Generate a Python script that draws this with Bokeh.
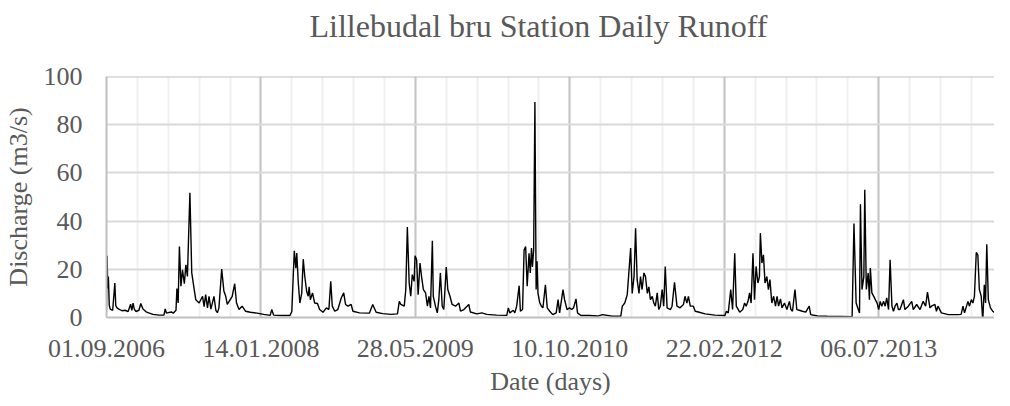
from bokeh.plotting import figure
from bokeh.models import FixedTicker, Range1d, Span, Title
from bokeh.embed import file_html
from bokeh.resources import INLINE

# ---- data -------------------------------------------------------------
title_text = "Lillebudal bru Station Daily Runoff"
start_date = "01.09.2006"          # day 0
tick_days = [0, 500, 1000, 1500, 2000, 2500]
tick_labels = ["01.09.2006", "14.01.2008", "28.05.2009",
               "10.10.2010", "22.02.2012", "06.07.2013"]
minor_days = list(range(0, 2901, 100))
y_ticks = [0, 20, 40, 60, 80, 100]

# days since 01.09.2006 and discharge (m3/s)
day = [0, 2, 4, 6, 9, 12, 20, 27, 30, 34, 40, 50, 60, 70, 78, 82, 86, 90, 95, 105,
       111, 118, 130, 150, 170, 186, 190, 194, 200, 210, 216, 225, 228, 232, 236, 241,
       246, 252, 257, 262, 270, 276, 284, 289, 300, 311, 316, 321, 327, 332, 338, 348,
       354, 359, 364, 373, 380, 386, 391, 407, 415, 421, 429, 439, 450, 466, 487, 509,
       530, 535, 541, 567, 594, 600, 605, 608, 613, 616, 621, 626, 632, 637, 642, 648,
       653, 656, 660, 667, 674, 683, 690, 701, 712, 720, 726, 731, 739, 749, 760, 768,
       774, 782, 792, 798, 819, 851, 862, 873, 894, 921, 942, 948, 953, 964, 969, 974,
       980, 985, 990, 996, 999, 1004, 1009, 1015, 1020, 1026, 1033, 1039, 1044, 1049,
       1055, 1058, 1065, 1071, 1076, 1081, 1087, 1092, 1100, 1105, 1112, 1119, 1130,
       1141, 1146, 1157, 1173, 1178, 1199, 1215, 1231, 1263, 1296, 1301, 1306, 1317,
       1322, 1328, 1336, 1340, 1347, 1352, 1357, 1362, 1368, 1372, 1376, 1379, 1383,
       1387, 1391, 1394, 1397, 1403, 1408, 1413, 1421, 1427, 1435, 1445, 1456, 1462,
       1467, 1478, 1483, 1491, 1499, 1506, 1512, 1520, 1525, 1536, 1563, 1590, 1606,
       1638, 1665, 1670, 1678, 1686, 1697, 1702, 1708, 1713, 1718, 1724, 1729, 1734,
       1740, 1745, 1751, 1756, 1761, 1767, 1772, 1777, 1783, 1788, 1793, 1799, 1804,
       1809, 1815, 1826, 1831, 1839, 1847, 1857, 1868, 1873, 1879, 1884, 1890, 1900,
       1906, 1916, 1938, 1970, 2002, 2007, 2013, 2021, 2027, 2034, 2039, 2050, 2060,
       2066, 2071, 2077, 2082, 2087, 2093, 2098, 2103, 2109, 2114, 2117, 2122, 2127,
       2132, 2138, 2143, 2148, 2154, 2160, 2166, 2171, 2176, 2182, 2187, 2195, 2203,
       2211, 2216, 2221, 2229, 2235, 2243, 2253, 2264, 2275, 2280, 2302, 2334, 2377,
       2414, 2420, 2427, 2434, 2438, 2441, 2446, 2452, 2455, 2460, 2466, 2470, 2473,
       2478, 2484, 2489, 2495, 2500, 2505, 2510, 2516, 2521, 2526, 2532, 2537, 2543,
       2548, 2553, 2559, 2564, 2569, 2580, 2585, 2596, 2607, 2612, 2623, 2634, 2644,
       2652, 2658, 2666, 2671, 2682, 2687, 2692, 2703, 2725, 2757, 2767, 2773, 2778,
       2789, 2794, 2800, 2805, 2810, 2816, 2821, 2826, 2832, 2837, 2842, 2846, 2850,
       2855, 2862, 2869, 2877, 2885, 2890, 2895]
runoff = [3.0, 25.6, 12, 17, 5, 3.5, 3, 14.3, 5, 4, 3.5, 2.8, 3, 2.5, 5.5, 3, 6, 3.5, 2.5, 3,
          5.8, 3.5, 2.2, 1.3, 1.0, 1.0, 3.6, 1.8, 2.0, 2.3, 1.8, 3, 12, 6, 29.5, 13,
          19.8, 14, 21.9, 17, 51.8, 18.5, 11.6, 7.4, 6, 8.8, 4.5, 9.5, 4, 8.8, 3.5, 8.8,
          3, 2, 4, 20.1, 11, 8.8, 5.4, 8.8, 14, 6, 3.3, 4.7, 2.6, 2.2, 1.8, 1.3,
          0.9, 3.3, 1.0, 0.8, 0.8, 2.5, 18.5, 27.7, 20.5, 26.7, 14.3, 6, 10, 24.2, 17, 10.9,
          8.8, 12.7, 7.4, 10.2, 6, 5.8, 3.3, 2.2, 4, 3.3, 15, 4.7, 2.6, 3.3, 8.1, 10.2,
          5.4, 4.7, 5.4, 2.6, 1.9, 1.8, 5.4, 2.2, 1.6, 1.3, 1.5, 6.7, 5.4, 4.7, 11.6, 37.5,
          14.3, 8.8, 17.8, 15, 25.6, 24, 9.5, 22.6, 17, 11.6, 10.2, 4.7, 8.8, 4,
          31.8, 8.8, 4.7, 1.9, 7.4, 18.5, 4.7, 3.3, 20.9, 11.6, 8.8, 5.4, 4.7,
          6, 2.6, 3.3, 5.4, 2.3, 1.5, 1.9, 1.3, 1.0, 0.9, 4, 1.9, 3,
          1.9, 4.7, 13.2, 2.6, 3.3, 28, 29.5, 13, 26.6, 18.5, 28.8, 21, 28,
          89.4, 11.6, 23.3, 10, 6, 4.7, 4, 13.6, 4, 2.6, 1.2, 1.9, 7.4,
          1.9, 11.6, 7.4, 3.3, 4, 3.3, 4, 7.7, 1.9, 0.8, 0.8, 0.6, 1.2,
          0.5, 0.5, 4.7, 6, 9.5, 28.8, 10, 17, 37, 15.7, 10, 17, 11.6,
          18.5, 17, 10, 12.7, 7.4, 8.8, 6, 4.7, 10.2, 3.3, 4.7, 11.6, 4.7,
          21.2, 4, 3.3, 4.7, 14.6, 4.7, 4, 5.4, 8.8, 6, 8.8, 4.7, 4.7,
          2.6, 2.3, 1.5, 1.0, 0.8, 2.6, 1.9, 11.6, 3.3, 26.7, 4.7, 2.2, 3.3,
          6, 4.7, 6.7, 10.2, 6, 26.7, 7.4, 21.2, 14.3, 17, 35, 22.6, 26,
          14.3, 17, 11.6, 15.7, 6, 8.8, 4.7, 8.8, 4.7, 7.7, 4, 6, 3.3,
          6.7, 3.3, 2.6, 11.6, 3.3, 3, 2.6, 2.2, 4.7, 1.2, 0.6, 0.5, 0.4,
          0.3, 39, 6, 3.3, 1.9, 47, 11.6, 17, 53, 11.6, 18.5, 7.4, 20.5,
          10.2, 8.8, 7.4, 6, 3.3, 6.7, 4.7, 6.7, 4.7, 8.1, 3.3, 24, 4.7,
          2.6, 4.7, 6, 3.3, 3.3, 7.4, 3.3, 4.7, 6.7, 3.3, 5.4, 3.3, 6.7,
          4.7, 10.5, 4, 4.7, 5.4, 2.6, 4.7, 1.9, 1.2, 1.2, 1.3, 4.7, 1.9,
          6.7, 4.7, 7.4, 6, 8.8, 27, 26, 11.6, 8.8, -1.5, 13.6, 6, 30.4,
          7.4, 4, 2.6, 1.9, 4.7, 1.2, 5.4]

# ---- styling ----------------------------------------------------------
FONT = "Liberation Serif"
TXT = "#595959"

p = figure(width=994, height=398, output_backend="svg", toolbar_location=None,
           x_range=Range1d(0, 2875), y_range=Range1d(0, 100),
           min_border_left=99, min_border_right=0, min_border_top=76,
           min_border_bottom=80)
p.background_fill_color = "white"
p.border_fill_color = "white"
p.outline_line_color = None
p.title.text = ""

# empty spacer panel between the frame and the title, then the title
p.add_layout(Title(text=" ", text_font_size="10px", standoff=18), "above")
p.add_layout(Title(text=title_text, text_font=FONT, text_font_size="32px",
                   text_font_style="normal", text_color=TXT, align="left",
                   offset=203, vertical_align="top", standoff=0), "above")

p.line(day, runoff, line_color="black", line_width=1.4)

# x axis
p.xaxis.ticker = FixedTicker(ticks=tick_days, minor_ticks=minor_days)
p.xaxis.major_label_overrides = {d: lab for d, lab in zip(tick_days, tick_labels)}
p.xaxis.axis_label = "Date (days)"
# y axis
p.yaxis.ticker = FixedTicker(ticks=y_ticks)
p.yaxis.axis_label = "Discharge (m3/s)"

for ax in (p.xaxis[0], p.yaxis[0]):
    ax.major_label_text_font = FONT
    ax.major_label_text_font_size = "26px"
    ax.major_label_text_color = TXT
    ax.axis_label_text_font = FONT
    ax.axis_label_text_font_size = "26px"
    ax.axis_label_text_font_style = "normal"
    ax.axis_label_text_color = TXT
    ax.major_tick_out = 0
    ax.major_tick_in = 0
    ax.minor_tick_out = 0
    ax.minor_tick_in = 0
    ax.axis_line_color = "#bfbfbf"
    ax.axis_line_width = 2

p.xaxis.major_label_standoff = 22
p.xaxis.axis_label_standoff = 7
p.yaxis.major_label_standoff = 24
p.yaxis.axis_label_standoff = 8

# grids
p.xgrid.grid_line_color = "#c4c4c4"
p.xgrid.grid_line_width = 2
p.xgrid.minor_grid_line_color = "#f0f0f0"
p.xgrid.minor_grid_line_width = 2
p.ygrid.grid_line_color = "#d9d9d9"
p.ygrid.grid_line_width = 2
p.xgrid.level = "underlay"
p.ygrid.level = "underlay"

p.add_layout(Span(location=100, dimension="width", line_color="#bfbfbf",
                  line_width=2, level="underlay"))

open("out.html", "w").write(file_html(p, INLINE))
